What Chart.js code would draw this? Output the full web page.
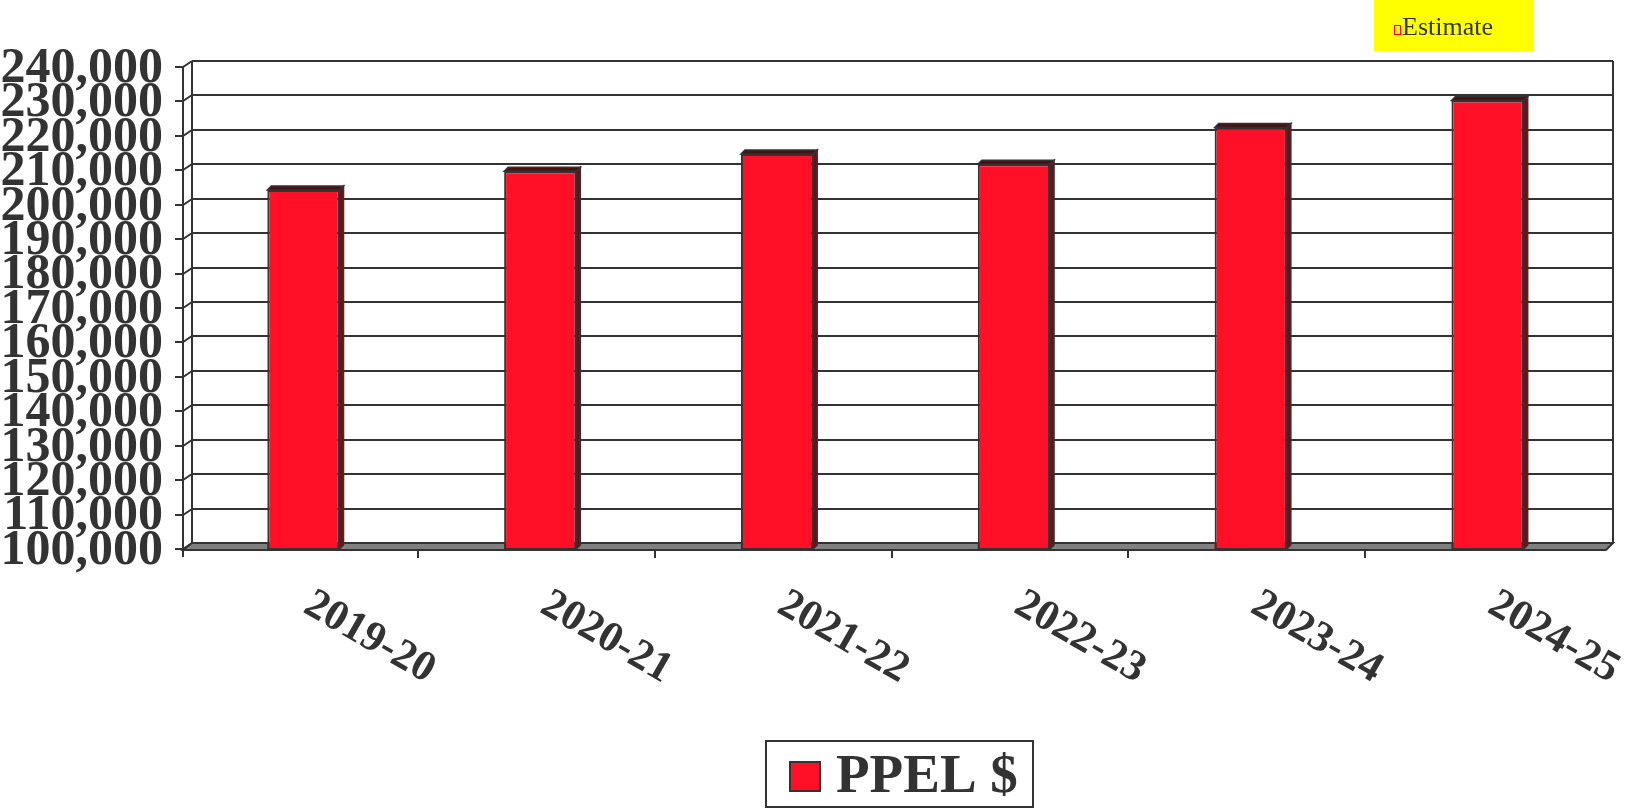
<!DOCTYPE html>
<html><head><meta charset="utf-8">
<script src="https://cdn.jsdelivr.net/npm/chart.js@4.4.0/dist/chart.umd.min.js"></script>
<style>html,body{margin:0;padding:0;background:#fff}canvas{display:block}</style>
</head><body>
<canvas id="c" width="1628" height="808"></canvas>
<script>
// ---- data ----
const categories = ['2019-20', '2020-21', '2021-22', '2022-23', '2023-24', '2024-25'];
const ppelValues = [202500, 208000, 213000, 210000, 220700, 228500];
const seriesLabel = 'PPEL $';
const estimateLabel = 'Estimate';
const yMin = 100000;
const yMax = 240000;
const yStep = 10000;

// ---- style ----
const INK = '#333333';
const SERIF = '"Liberation Serif", "Times New Roman", serif';
const RED = '#ff1026';
const DARK_RED = '#7a0a12';

const frame3d = {
  id: 'frame3d',
  beforeDatasetsDraw(chart) {
    const {ctx, chartArea: a, scales: {x, y}} = chart;
    const frontL = a.left - 2, backL = frontL + 9;
    const backR = a.right + 7, frontR = backR - 7;
    const yb = y.getPixelForValue(yMin), yf = yb + 7, yTop = y.getPixelForValue(yMax);
    ctx.save();
    ctx.strokeStyle = INK;
    ctx.lineWidth = 2;
    for (let v = yMin; v <= yMax; v += yStep) {
      const Y = Math.round(y.getPixelForValue(v));
      ctx.beginPath(); ctx.moveTo(backL, Y); ctx.lineTo(backR, Y); ctx.stroke();
      ctx.beginPath(); ctx.moveTo(frontL - 8, Y + 6); ctx.lineTo(frontL, Y + 6); ctx.lineTo(backL, Y); ctx.stroke();
    }
    ctx.beginPath(); ctx.moveTo(backL, yTop); ctx.lineTo(backL, yb); ctx.stroke();
    ctx.beginPath(); ctx.moveTo(frontL, yTop + 6); ctx.lineTo(frontL, yf + 7); ctx.stroke();
    ctx.beginPath(); ctx.moveTo(backR, yTop); ctx.lineTo(backR, yb); ctx.stroke();
    ctx.beginPath();
    ctx.moveTo(frontL, yf); ctx.lineTo(backL, yb); ctx.lineTo(backR, yb); ctx.lineTo(frontR, yf); ctx.closePath();
    ctx.fillStyle = '#808080'; ctx.fill(); ctx.stroke();
    for (let i = 0; i < categories.length - 1; i++) {
      const tx = Math.round((x.getPixelForValue(i) + x.getPixelForValue(i + 1)) / 2) - 4;
      ctx.beginPath(); ctx.moveTo(tx, yf); ctx.lineTo(tx, yf + 8); ctx.stroke();
    }
    ctx.restore();
  },
  afterDatasetsDraw(chart) {
    const {ctx, scales: {y: ys}} = chart;
    const meta = chart.getDatasetMeta(0);
    const d = 4;
    const floorY = ys.getPixelForValue(yMin);
    ctx.save();
    ctx.strokeStyle = INK;
    meta.data.forEach(bar => {
      const {x, y, width} = bar.getProps(['x', 'y', 'width'], true);
      const l = x - width / 2, r = x + width / 2, base = floorY, bot = base + 6;
      ctx.fillStyle = RED;
      ctx.fillRect(l, base - 1, width, bot - base + 1);
      ctx.lineWidth = 2;
      ctx.beginPath(); ctx.moveTo(l + 1, base - 1); ctx.lineTo(l + 1, bot); ctx.lineTo(r - 1, bot); ctx.lineTo(r - 1, base - 1); ctx.stroke();
      ctx.lineWidth = 1.5;
      ctx.fillStyle = DARK_RED;
      ctx.beginPath(); ctx.moveTo(r, y); ctx.lineTo(r + d, y - d); ctx.lineTo(r + d, bot - d); ctx.lineTo(r, bot); ctx.closePath();
      ctx.fill(); ctx.stroke();
      ctx.fillStyle = '#4a1014';
      ctx.beginPath(); ctx.moveTo(l, y); ctx.lineTo(l + d, y - d); ctx.lineTo(r + d, y - d); ctx.lineTo(r, y); ctx.closePath();
      ctx.fill(); ctx.stroke();
    });
    ctx.restore();
  },
  afterDraw(chart) {
    const {ctx} = chart;
    const ds = chart.data.datasets[0];
    ctx.save();
    // legend
    ctx.strokeStyle = INK; ctx.lineWidth = 2;
    ctx.strokeRect(766, 741, 267, 66);
    ctx.fillStyle = ds.backgroundColor;
    ctx.fillRect(790, 762, 30, 29);
    ctx.lineWidth = 2;
    ctx.strokeRect(790, 762, 30, 29);
    ctx.fillStyle = INK;
    ctx.font = 'bold 55px ' + SERIF;
    ctx.textBaseline = 'alphabetic';
    ctx.textAlign = 'left';
    ctx.fillText(ds.label, 836, 792);
    // estimate note
    ctx.fillStyle = '#ffff00';
    ctx.fillRect(1374, 0, 160, 51);
    ctx.strokeStyle = '#ff0000'; ctx.lineWidth = 1;
    ctx.strokeRect(1394.5, 25.5, 6, 9);
    ctx.fillStyle = INK;
    ctx.font = '26px ' + SERIF;
    ctx.fillText(estimateLabel, 1402, 35);
    ctx.restore();
  }
};

new Chart(document.getElementById('c'), {
  type: 'bar',
  data: {
    labels: categories,
    datasets: [{
      label: seriesLabel,
      data: ppelValues,
      backgroundColor: RED,
      borderColor: INK,
      borderWidth: 2,
      borderSkipped: 'bottom',
      categoryPercentage: 1,
      barPercentage: 0.305
    }]
  },
  options: {
    responsive: false,
    animation: false,
    devicePixelRatio: 1,
    layout: {padding: {top: 61, right: 22, left: 0, bottom: 75}},
    plugins: {
      tooltip: {enabled: false},
      legend: {display: false}
    },
    scales: {
      x: {
        offset: true,
        grid: {display: false, drawTicks: false, tickLength: 0},
        border: {display: false},
        afterFit: s => { s.height = 190; },
        ticks: {
          autoSkip: false,
          minRotation: -30,
          maxRotation: -30,
          padding: 108,
          labelOffset: 128,
          color: INK,
          font: {family: SERIF, size: 43, weight: 'bold'}
        }
      },
      y: {
        min: yMin,
        max: yMax,
        grid: {display: false, drawTicks: false, tickLength: 0},
        border: {display: false},
        afterFit: s => { s.width = 185; },
        ticks: {
          stepSize: yStep,
          autoSkip: false,
          padding: 22,
          labelOffset: 8,
          color: INK,
          font: {family: SERIF, size: 50, weight: 'bold'},
          callback: v => Number(v).toLocaleString('en-US')
        }
      }
    }
  },
  plugins: [frame3d]
});
</script>
</body></html>
